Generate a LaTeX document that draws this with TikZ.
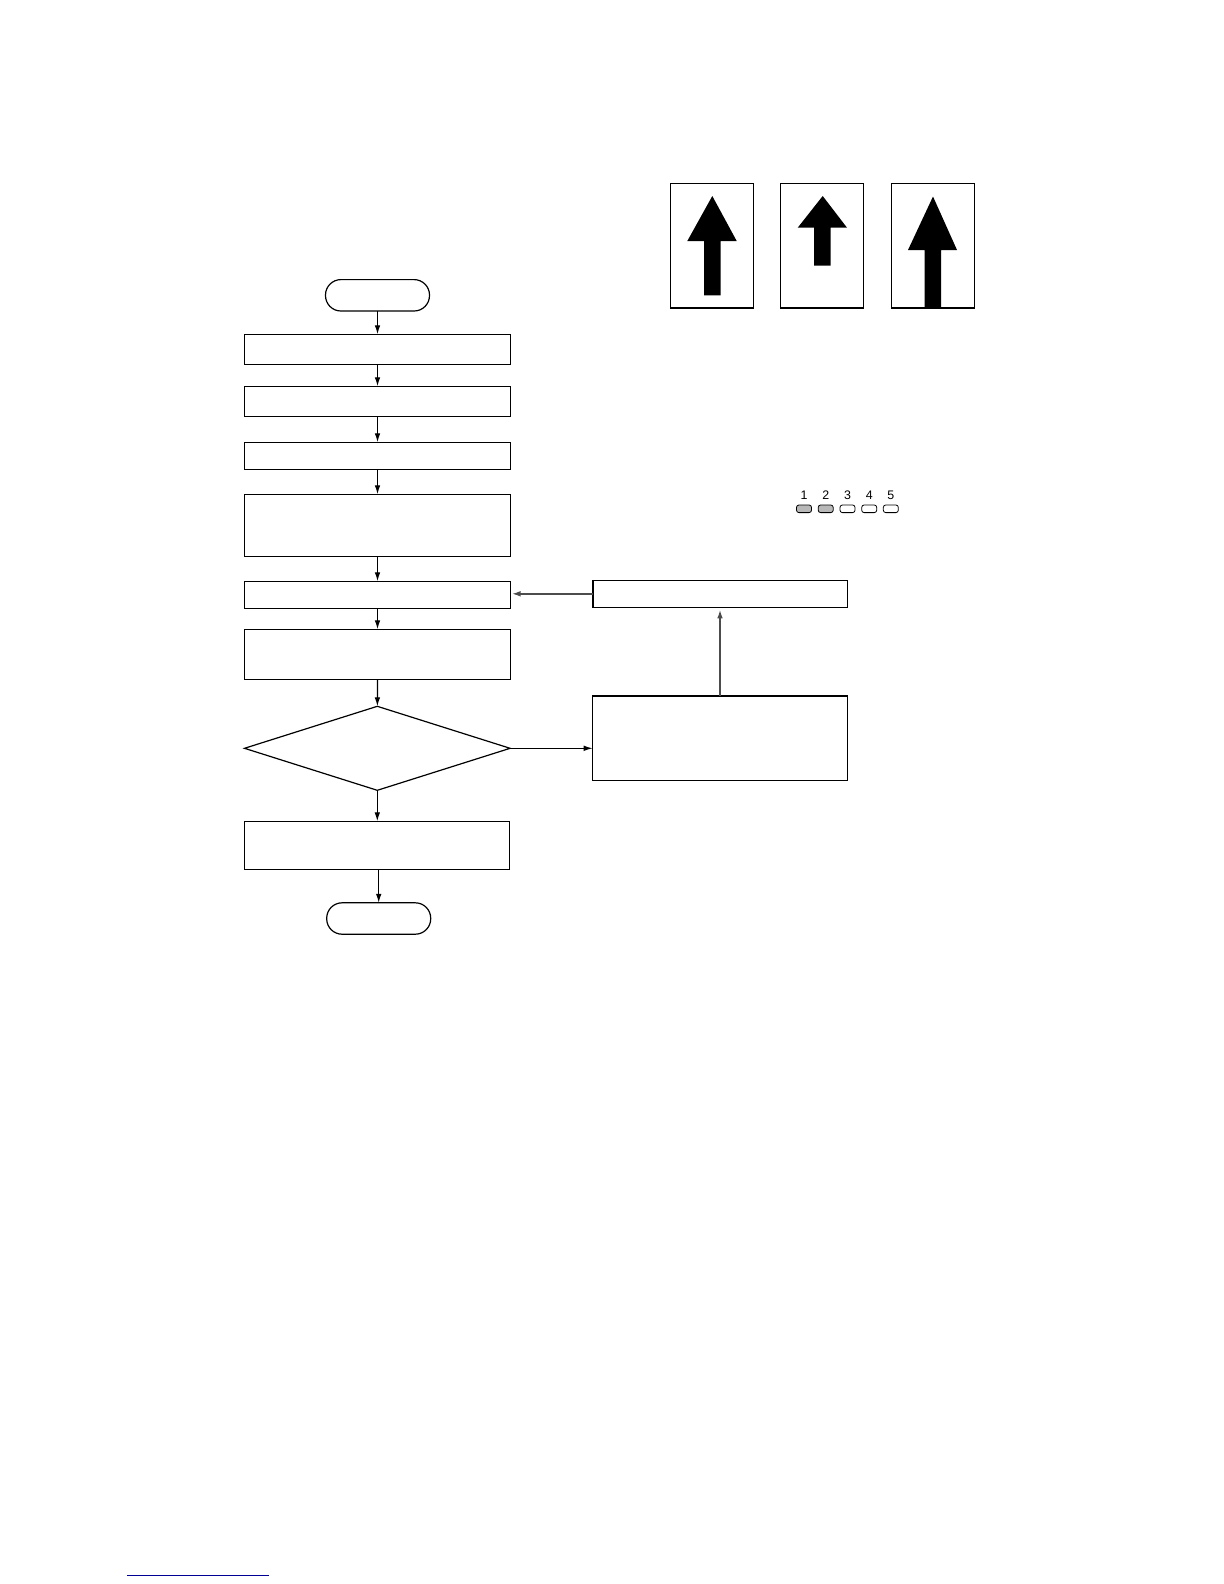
\documentclass[tikz,border=0pt]{standalone}
\usepackage{fontspec}
\setmainfont{Liberation Sans}
\usepackage{tikz}
\usetikzlibrary{arrows.meta,shapes.geometric}
\definecolor{ledgray}{gray}{0.72}
\definecolor{linknavy}{RGB}{0,0,150}
\tikzset{
	procbox/.style={draw, rectangle, line width=0.6pt, inner sep=0pt, outer sep=0pt, minimum width=133pt},
	termbox/.style={draw, rectangle, rounded corners=7.7pt, line width=0.6pt, inner sep=0pt, outer sep=0pt, minimum width=52pt, minimum height=15.7pt},
	led/.style={draw, rectangle, rounded corners=1.2pt, line width=0.4pt, inner sep=0pt, minimum width=7.5pt, minimum height=3.8pt},
	ledtext/.style={font=\fontsize{6.2}{7}\selectfont, inner sep=0pt, anchor=base},
	flow/.style={->, line width=0.6pt},
	backflow/.style={->, line width=0.9pt, black!70},
}
\begin{document}
\begin{tikzpicture}[>={Latex[length=4.5pt,width=2.8pt]}, x=0.5pt, y=-0.5pt]
	\useasboundingbox (0,0) rectangle (1224,1584);
	% flow chart
	\node[termbox] (start) at (377.5,295.3) {};
	\node[procbox, minimum height=15pt] (boxa) at (377.5,349.3) {};
	\node[procbox, minimum height=15pt] (boxb) at (377.5,401.3) {};
	\node[procbox, minimum height=13.5pt] (boxc) at (377.5,455.8) {};
	\node[procbox, minimum height=31pt] (boxd) at (377.5,525.3) {};
	\node[procbox, minimum height=13.5pt] (boxe) at (377.5,594.8) {};
	\node[procbox, minimum height=25pt] (boxf) at (377.5,654.3) {};
	\node[draw, diamond, aspect=3.16, line width=0.6pt, inner sep=0pt, outer sep=0pt, minimum width=132.8pt, minimum height=42pt] (check) at (377.3,748.3) {};
	\node[procbox, minimum width=132.5pt, minimum height=24pt] (boxg) at (377,845.3) {};
	\node[termbox] (done) at (378.7,918.5) {};
	\node[procbox, minimum width=127.3pt, minimum height=13.5pt] (retry) at (720,593.8) {};
	\node[procbox, minimum width=127.3pt, minimum height=42.3pt] (repair) at (720,738) {};
	\draw[line width=1pt] (repair.north west) -- (repair.north east);
	\draw[line width=1pt] (retry.north west) -- (retry.south west);
	\draw[flow] (start) -- (boxa);
	\draw[flow] (boxa) -- (boxb);
	\draw[flow] (boxb) -- (boxc);
	\draw[flow] (boxc) -- (boxd);
	\draw[flow] (boxd) -- (boxe);
	\draw[flow] (boxe) -- (boxf);
	\draw[flow] (boxf) -- (check);
	\draw[flow] (check.south) -- (check.south |- boxg.north);
	\draw[flow] (done.north |- boxg.south) -- (done.north);
	\draw[flow] (check.east) -- (repair.west |- check.east);
	\draw[backflow, shorten >=1pt] (repair) -- (retry);
	\draw[backflow, shorten >=0.5pt] (retry) -- (retry -| boxe.east);
	% arrow panels
	\draw[line width=0.6pt] (670.3,183.3) rectangle (753.7,308);
	\draw[line width=0.6pt] (780.3,183.3) rectangle (863.3,308);
	\draw[line width=0.6pt] (891.3,183.3) rectangle (974.3,308);
	\foreach \a in {670.3,780.3,891.3} {\draw[line width=1pt] (\a,308) -- (\a+83.2,308);}
	\fill (712.3,196) -- (736.7,241) -- (720.7,241) -- (720.7,295.3) -- (704,295.3) -- (704,241) -- (687.3,241) -- cycle;
	\fill (822.7,196) -- (847,227.7) -- (830.7,227.7) -- (830.7,265.7) -- (814,265.7) -- (814,227.7) -- (797.7,227.7) -- cycle;
	\fill (933,196.5) -- (957,250) -- (941,250) -- (941,308) -- (924.7,308) -- (924.7,250) -- (908,250) -- cycle;
	% lamps
	\foreach \n/\x/\c in {1/804/ledgray,2/825.7/ledgray,3/847.5/white,4/869.2/white,5/890.8/white} {
		\node[led, fill=\c] (lamp\n) at (\x,508.8) {};
		\node[ledtext] (lamptext\n) at (\x,499) {\n};
	}
	\draw[linknavy, line width=0.7pt] (127,1575.3) -- (269,1575.3);
\end{tikzpicture}
\end{document}
